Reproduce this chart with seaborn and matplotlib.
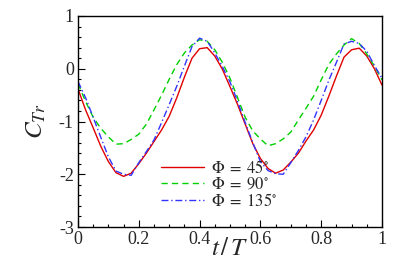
import numpy as np
import pandas as pd
import matplotlib
matplotlib.use('Agg')
import matplotlib.pyplot as plt
from matplotlib.ticker import MultipleLocator, FuncFormatter
import seaborn as sns

# t/T grid and C_Tr values
t = np.round(np.arange(0, 1.0001, 0.025), 3)

ct_45 = [-0.38, -0.78, -1.12, -1.47, -1.76, -1.97, -2.04, -1.98, -1.80, -1.60,
         -1.38, -1.16, -0.90, -0.55, -0.16, 0.20, 0.38, 0.40, 0.24, -0.01,
         -0.34, -0.68, -1.05, -1.42, -1.70, -1.89, -1.98, -1.92, -1.77, -1.60,
         -1.37, -1.16, -0.88, -0.52, -0.14, 0.22, 0.36, 0.39, 0.24, 0.00,
         -0.31]
ct_90 = [-0.28, -0.62, -0.92, -1.13, -1.29, -1.43, -1.42, -1.34, -1.24, -1.05,
         -0.78, -0.50, -0.20, 0.08, 0.30, 0.45, 0.55, 0.52, 0.36, 0.12,
         -0.18, -0.55, -0.92, -1.18, -1.33, -1.46, -1.42, -1.33, -1.20, -0.97,
         -0.75, -0.52, -0.21, 0.08, 0.28, 0.45, 0.57, 0.48, 0.28, 0.05,
         -0.21]
ct_135 = [-0.24, -0.55, -0.92, -1.30, -1.67, -1.94, -2.00, -2.02, -1.78, -1.57,
          -1.35, -1.02, -0.68, -0.33, 0.05, 0.42, 0.58, 0.52, 0.30, 0.04,
          -0.25, -0.62, -1.02, -1.40, -1.76, -1.93, -1.99, -2.00, -1.78, -1.55,
          -1.29, -0.97, -0.60, -0.22, 0.12, 0.47, 0.52, 0.48, 0.33, 0.06,
          -0.18]

labels = [r'$\Phi\;=\;45^{\circ}$', r'$\Phi\;=\;90^{\circ}$', r'$\Phi\;=\;135^{\circ}$']
colors = ['#e00000', '#00d000', '#3333ff']
styles = ['-', (0, (4.5, 3)), (0, (5, 2, 1, 2))]

sns.set_style('ticks')
plt.rcParams['font.family'] = ['Liberation Serif', 'DejaVu Serif']
plt.rcParams['mathtext.fontset'] = 'stix'
plt.rcParams['axes.unicode_minus'] = False

fig = plt.figure(figsize=(4.07, 2.72), dpi=100)
ax = fig.add_axes([0.1916, 0.1654, 0.747, 0.7758])

for vals, lab, col, ls in zip([ct_45, ct_90, ct_135], labels, colors, styles):
    df = pd.DataFrame({'t': t, 'C': vals})
    sns.lineplot(data=df, x='t', y='C', ax=ax, color=col, linestyle=ls,
                 linewidth=1.0, label=lab)

ax.set_xlim(0, 1)
ax.set_ylim(-3, 1)
ax.xaxis.set_major_locator(MultipleLocator(0.2))
ax.xaxis.set_minor_locator(MultipleLocator(0.05))
ax.yaxis.set_major_locator(MultipleLocator(1))
ax.yaxis.set_minor_locator(MultipleLocator(0.2))
fmt = FuncFormatter(lambda v, p: '%g' % round(v, 3))
ax.xaxis.set_major_formatter(fmt)
ax.yaxis.set_major_formatter(fmt)
ax.tick_params(which='both', direction='in', top=False, right=False,
               labelsize=13, width=0.8, color='black')
ax.tick_params(which='major', length=5, pad=3)
ax.tick_params(which='minor', length=2.5)
for s in ax.spines.values():
    s.set_linewidth(1.0)
    s.set_color('black')

ax.set_xlabel(r'$t\,/\,T$', fontsize=18, labelpad=-7)
ax.set_ylabel(r'$C_{Tr}$', fontsize=18, labelpad=8)

ax.legend(loc='upper left', bbox_to_anchor=(0.24, 0.365), frameon=False,
          fontsize=12, handlelength=2.6, handletextpad=0.4,
          labelspacing=0.0, borderpad=0.1)

fig.savefig('out.png', dpi=100)
